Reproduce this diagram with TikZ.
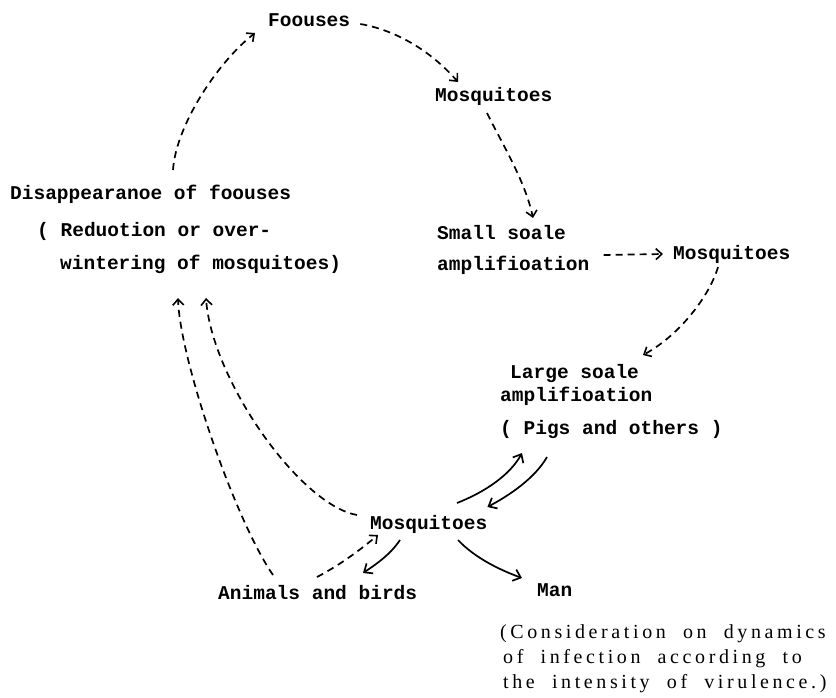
\documentclass[tikz,border=0pt]{standalone}
\usepackage{fontspec}
\usetikzlibrary{arrows.meta,calc}
\newfontfamily\twfont{Liberation Mono}[BoldFont={* Bold}]
\newfontfamily\capfont{Liberation Serif}[LetterSpace=18,WordSpace=2]
\begin{document}
\begin{tikzpicture}[x=1pt,y=-1pt,
  tw/.style={font=\twfont\bfseries\fontsize{19.5}{22}\selectfont, inner sep=0pt, anchor=base west},
  capt/.style={font=\capfont\fontsize{20}{24}\selectfont, inner sep=0pt, anchor=base west},
  dsh/.style={line width=1.7pt, dash pattern=on 7pt off 5pt, -{Straight Barb[length=6pt,width=11pt,line width=1.6pt]}},
  sld/.style={line width=1.7pt, -{Straight Barb[length=7pt,width=12pt]}}]
\useasboundingbox (0,0) rectangle (836,697);

\node[tw] (foc) at (268,26) {Foouses};
\node[tw] (mq1) at (435,101) {Mosquitoes};
\node[tw] (ss1) at (437,239) {Small soale};
\node[tw] (ss2) at (437,270) {amplifioation};
\node[tw] (mq2) at (673,259) {Mosquitoes};
\node[tw] (dis1) at (10,199) {Disappearanoe of foouses};
\node[tw] (dis2) at (37,236) {( Reduotion or over-};
\node[tw] (dis3) at (60,269) {wintering of mosquitoes)};
\node[tw] (ls1) at (510,378) {Large soale};
\node[tw] (ls2) at (500,401) {amplifioation};
\node[tw] (ls3) at (500,434) {( Pigs and others )};
\node[tw] (mq3) at (370,529) {Mosquitoes};
\node[tw] (ani) at (218,599) {Animals and birds};
\node[tw] (man) at (537,596) {Man};
\node[capt] (cap1) at (500,638) {(Consideration on dynamics};
\node[capt] (cap2) at (503,663) {of infection according to};
\node[capt] (cap3) at (503,688) {the intensity of virulence.)};

% dashed cycle
\draw[dsh] ($(dis1.base west)+(163,-29)$) .. controls (176,125) and (218,62) .. ($(foc.base west)+(-13,7)$);
\draw[dsh] ($(foc.base east)+(10,-2)$) .. controls (395,30) and (430,50) .. ($(mq1.base west)+(23,-19)$);
\draw[dsh] ($(mq1.base west)+(52,12)$) .. controls (500,140) and (525,180) .. ($(ss1.base west)+(96,-21)$);
\draw[dsh] ($(ss2.base east)+(14,-15)$) -- ($(mq2.base west)+(-10,-5)$);
\draw[dsh] ($(mq2.base west)+(45,8)$) .. controls (710,295) and (680,335) .. ($(ls1.base west)+(133,-23)$);

% solid arrows
\draw[sld] ($(mq3.base west)+(87,-26)$) .. controls (485,492) and (510,475) .. ($(ls3.base west)+(22,19)$);
\draw[sld] ($(ls3.base west)+(47,23)$) .. controls (535,478) and (510,495) .. ($(mq3.base east)+(0,-22)$);
\draw[sld] ($(mq3.base west)+(30,11)$) .. controls (390,555) and (375,565) .. ($(ani.base west)+(145,-26)$);
\draw[sld] ($(mq3.base west)+(88,11)$) .. controls (475,558) and (500,570) .. ($(man.base west)+(-15,-18)$);

% dashed returns
\draw[dsh] ($(mq3.base west)+(-13,-14)$) .. controls (300,505) and (212,380) .. ($(dis3.base west)+(146,29)$);
\draw[dsh] ($(ani.base west)+(55,-24)$) .. controls (235,520) and (180,360) .. ($(dis3.base west)+(118,29)$);
\draw[dsh] ($(ani.base west)+(99,-22)$) .. controls (340,565) and (360,550) .. ($(mq3.base west)+(8,6)$);
\end{tikzpicture}
\end{document}
